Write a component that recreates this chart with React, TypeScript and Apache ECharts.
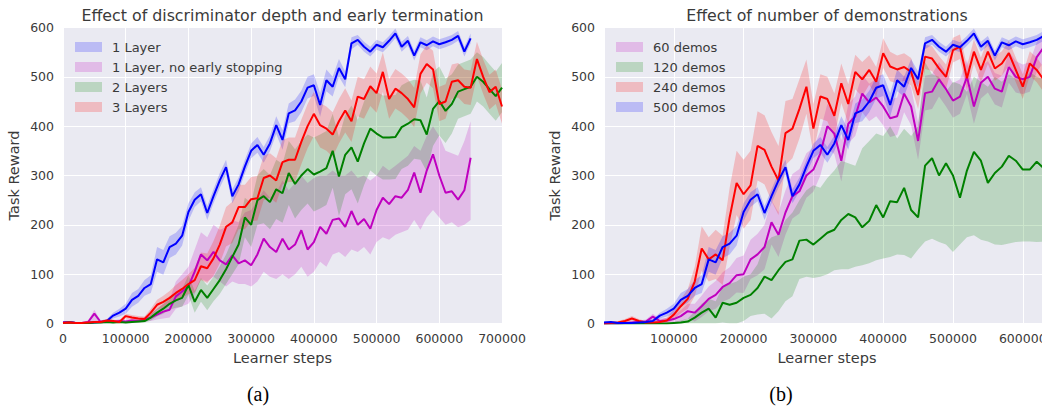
import React, { useEffect, useRef } from "react";
import * as echarts from "echarts";

const STEP = 10000;

// ---------- Panel (a): Effect of discriminator depth and early termination ----------
const leftNames = ["1 Layer", "1 Layer, no early stopping", "2 Layers", "3 Layers"];

const blueMean = [
  2, 3, 1, 1, 1, 2, 3, 5, 16, 22,
  30, 48, 56, 72, 80, 130, 124, 155, 162, 178,
  226, 251, 262, 224, 258, 290, 317, 258, 282, 318,
  350, 362, 342, 365, 402, 372, 426, 432, 450, 478,
  483, 443, 493, 480, 518, 495, 568, 575, 561, 551,
  565, 560, 573, 588, 561, 573, 543, 570, 564, 572,
  566, 570, 575, 583, 551, 578,
];
const blueSpread = [
  2, 2, 2, 2, 2, 2, 3, 4, 6, 8,
  10, 14, 14, 16, 18, 25, 25, 22, 22, 20,
  18, 15, 14, 14, 14, 15, 15, 14, 14, 14,
  15, 16, 16, 16, 18, 20, 20, 22, 22, 22,
  22, 24, 22, 20, 18, 16, 12, 10, 10, 10,
  10, 10, 10, 10, 10, 10, 10, 10, 10, 10,
  10, 10, 10, 10, 10, 10,
];

const magentaMean = [
  2, 3, 1, 1, 3, 20, 3, 4, 3, 5,
  4, 6, 5, 8, 12, 18, 24, 28, 55, 65,
  75, 105, 140, 128, 145, 128, 120, 138, 122, 128,
  118, 140, 172, 155, 145, 172, 150, 160, 189, 150,
  165, 196, 182, 210, 213, 196, 228, 200, 212, 192,
  230, 255, 242, 258, 255, 271, 306, 265, 310, 343,
  300, 265, 268, 251, 270, 336,
];
const magentaLow = [
  0, 0, 0, 0, 0, 5, 0, 0, 0, 1,
  1, 2, 2, 4, 5, 8, 10, 12, 30, 35,
  40, 60, 90, 85, 95, 85, 75, 85, 80, 80,
  75, 85, 105, 95, 90, 100, 90, 100, 115, 95,
  105, 125, 115, 140, 145, 135, 150, 145, 155, 140,
  165, 175, 170, 180, 185, 190, 210, 190, 215, 230,
  215, 200, 205, 195, 200, 210,
];
const magentaHigh = [
  4, 5, 3, 3, 6, 28, 6, 7, 6, 9,
  8, 10, 9, 13, 22, 30, 40, 48, 85, 100,
  115, 150, 185, 175, 200, 190, 195, 210, 205, 225,
  230, 250, 270, 255, 265, 290, 270, 285, 300, 285,
  295, 300, 300, 310, 300, 300, 310, 295, 300, 290,
  300, 320, 310, 320, 330, 340, 360, 350, 380, 400,
  380, 350, 345, 340, 370, 410,
];

const greenMean = [
  1, 2, 1, 1, 1, 2, 2, 3, 2, 3,
  2, 3, 4, 5, 12, 22, 30, 40, 47, 52,
  78, 44, 68, 52, 70, 88, 110, 135, 160, 215,
  200, 250, 258, 246, 272, 264, 305, 283, 300, 313,
  302, 308, 315, 350, 298, 342, 357, 328, 365, 395,
  385, 377, 377, 378, 398, 405, 414, 412, 383, 435,
  451, 431, 445, 470, 475, 480, 500, 490, 475, 461, 478,
];
const greenSpread = [
  2, 2, 2, 2, 2, 2, 2, 2, 2, 2,
  2, 2, 3, 3, 6, 8, 10, 12, 15, 18,
  20, 22, 24, 25, 25, 28, 30, 35, 40, 40,
  45, 50, 55, 55, 60, 60, 65, 70, 70, 70,
  75, 75, 75, 75, 80, 80, 85, 85, 85, 85,
  85, 85, 85, 85, 85, 85, 80, 80, 75, 75,
  70, 65, 60, 55, 55, 55, 50, 50, 50, 50, 50,
];

const redMean = [
  1, 2, 1, 1, 2, 3, 3, 6, 5, 3,
  15, 12, 10, 9, 22, 38, 44, 52, 62, 70,
  80, 88, 116, 112, 132, 160, 196, 205, 236, 236,
  252, 254, 295, 300, 290, 327, 332, 332, 368, 400,
  425, 402, 395, 383, 410, 432, 410, 460, 455, 481,
  467, 510, 455, 476, 467, 455, 438, 506, 526, 515,
  445, 450, 490, 493, 480, 478, 536, 500, 469, 480, 440,
];
const redSpread = [
  2, 2, 2, 2, 2, 2, 3, 3, 3, 3,
  5, 5, 5, 5, 8, 10, 12, 14, 16, 18,
  20, 25, 28, 30, 35, 38, 40, 42, 45, 45,
  45, 45, 45, 45, 45, 45, 45, 45, 45, 45,
  45, 45, 45, 45, 45, 45, 42, 40, 40, 40,
  40, 40, 40, 40, 40, 40, 40, 40, 38, 38,
  35, 35, 35, 35, 35, 35, 35, 35, 35, 35, 35,
];

// ---------- Panel (b): Effect of number of demonstrations ----------
const rightNames = ["60 demos", "120 demos", "240 demos", "500 demos"];

const demo60Mean = [
  0, 0, 0, 1, 2, 3, 4, 14, 5, 6,
  9, 15, 25, 22, 35, 50, 58, 74, 82, 98,
  100, 130, 140, 155, 205, 180, 225, 258, 268, 300,
  312, 345, 400, 385, 330, 405, 420, 466, 448, 458,
  440, 416, 420, 466, 440, 370, 467, 470, 495, 475,
  452, 460, 500, 440, 488, 500, 476, 470, 520, 500,
  495, 500, 540, 560,
];
const demo60Spread = [
  2, 2, 2, 2, 3, 3, 4, 6, 5, 5,
  8, 12, 15, 18, 22, 25, 28, 30, 32, 35,
  38, 40, 42, 45, 45, 45, 45, 45, 45, 45,
  45, 45, 45, 42, 42, 40, 40, 38, 38, 38,
  38, 38, 38, 38, 38, 38, 35, 35, 35, 35,
  35, 35, 35, 35, 32, 32, 32, 32, 32, 32,
  30, 30, 30, 30,
];

const demo120Mean = [
  0, 0, 0, 0, 0, 0, 0, 0, 0, 0,
  1, 2, 4, 12, 22, 30, 12, 42, 38, 42,
  52, 58, 72, 95, 88, 108, 125, 130, 168, 170,
  160, 172, 184, 190, 210, 222, 215, 195, 208, 240,
  215, 248, 246, 275, 230, 215, 320, 335, 300, 325,
  300, 255, 310, 348, 330, 285, 305, 318, 340, 330,
  312, 312, 328, 315,
];
const demo120Low = [
  0, 0, 0, 0, 0, 0, 0, 0, 0, 0,
  0, 0, 0, 0, 0, 0, 0, 2, 0, 0,
  5, 15, 18, 20, 10, 25, 45, 55, 90, 95,
  92, 95, 100, 108, 110, 110, 115, 118, 122, 128,
  132, 135, 140, 139, 132, 150, 166, 172, 165, 160,
  145, 160, 175, 179, 170, 166, 160, 159, 162, 165,
  166, 166, 165, 166,
];
const demo120High = [
  1, 1, 1, 1, 1, 1, 1, 1, 1, 1,
  3, 6, 10, 25, 40, 50, 45, 75, 80, 85,
  95, 100, 120, 160, 175, 180, 210, 225, 250, 270,
  280, 275, 295, 310, 330, 325, 320, 355, 370, 385,
  380, 400, 375, 395, 380, 400, 530, 505, 500, 470,
  490, 485, 470, 500, 490, 480, 500, 490, 505, 495,
  490, 510, 500, 495,
];

const demo240Mean = [
  0, 1, 2, 5, 10, 5, 2, 2, 3, 6,
  18, 35, 50, 85, 152, 130, 140, 128, 215, 285,
  262, 280, 360, 352, 318, 290, 386, 395, 435, 480,
  395, 460, 455, 421, 487, 445, 510, 495, 514, 490,
  548, 521, 515, 520, 510, 463, 541, 537, 517, 500,
  554, 561, 497, 551, 514, 551, 517, 527, 548, 514,
  480, 527, 514, 494,
];
const demo240Spread = [
  2, 2, 3, 4, 5, 4, 3, 3, 4, 6,
  10, 14, 20, 30, 45, 45, 50, 50, 60, 65,
  70, 70, 70, 70, 70, 70, 65, 60, 60, 55,
  50, 45, 45, 45, 40, 40, 35, 35, 30, 30,
  30, 30, 28, 28, 28, 28, 25, 25, 25, 25,
  25, 25, 25, 25, 25, 25, 25, 25, 25, 25,
  25, 25, 25, 25,
];

// 500 demos is the same run as "1 Layer" in panel (a)
const demo500Mean = blueMean;
const demo500Spread = blueSpread;

const FONT = "DejaVu Sans";
const TXT = "#3a3a3a";

const C = {
  blue: "#0000ff",
  magenta: "#bf00bf",
  green: "#008000",
  red: "#ff0000",
};
const F = {
  blue: "rgba(0,0,255,0.2)",
  magenta: "rgba(191,0,191,0.2)",
  green: "rgba(0,128,0,0.2)",
  red: "rgba(255,0,0,0.2)",
};

function xy(vals: number[]) {
  return vals.map((v, i) => [i * STEP, v]);
}
function lowOf(mean: number[], spread: number[]) {
  return mean.map((v, i) => Math.max(0, v - spread[i]));
}
function highOf(mean: number[], spread: number[]) {
  return mean.map((v, i) => v + spread[i]);
}

function bandSeries(name: string, lo: number[], hi: number[], fill: string, gi: number) {
  return {
    type: "custom",
    name,
    xAxisIndex: gi,
    yAxisIndex: gi,
    clip: true,
    silent: true,
    itemStyle: { color: fill },
    data: [[0, lo[0]]],
    renderItem: (_params: any, api: any) => {
      const pts: number[][] = [];
      for (let i = 0; i < hi.length; i++) pts.push(api.coord([i * STEP, hi[i]]));
      for (let i = lo.length - 1; i >= 0; i--) pts.push(api.coord([i * STEP, lo[i]]));
      return { type: "polygon", shape: { points: pts }, style: { fill, stroke: "none" } };
    },
  };
}

function lineSeries(name: string, vals: number[], color: string, gi: number) {
  return {
    type: "line",
    name: name + " (mean)",
    xAxisIndex: gi,
    yAxisIndex: gi,
    data: xy(vals),
    showSymbol: false,
    symbol: "none",
    clip: true,
    silent: true,
    lineStyle: { color, width: 2 },
    itemStyle: { color },
  };
}

function xAxisOf(gi: number, max: number, showMin: boolean) {
  return {
    type: "value",
    gridIndex: gi,
    min: 0,
    max,
    interval: 100000,
    axisLine: { show: false },
    axisTick: { show: false },
    splitLine: { show: true, lineStyle: { color: "#ffffff", width: 1 } },
    axisLabel: {
      color: TXT,
      fontSize: 12.5,
      fontFamily: FONT,
      margin: 8,
      showMinLabel: showMin,
      showMaxLabel: max % 100000 === 0,
      formatter: (v: number) => String(v),
    },
    name: "Learner steps",
    nameLocation: "middle",
    nameGap: 27,
    nameTextStyle: { color: TXT, fontSize: 14.5, fontFamily: FONT },
  };
}

function yAxisOf(gi: number) {
  return {
    type: "value",
    gridIndex: gi,
    min: 0,
    max: 600,
    interval: 100,
    axisLine: { show: false },
    axisTick: { show: false },
    splitLine: { show: true, lineStyle: { color: "#ffffff", width: 1 } },
    axisLabel: { color: TXT, fontSize: 12.5, fontFamily: FONT, margin: 9, formatter: (v: number) => String(v) },
    name: "Task Reward",
    nameLocation: "middle",
    nameGap: 42,
    nameTextStyle: { color: TXT, fontSize: 14.5, fontFamily: FONT },
  };
}

function legendOf(left: number, names: string[], fills: string[]) {
  return {
    orient: "vertical",
    left,
    top: 35,
    itemWidth: 27,
    itemHeight: 10,
    itemGap: 6,
    selectedMode: false,
    icon: "rect",
    textStyle: { color: TXT, fontSize: 13, fontFamily: FONT, lineHeight: 14, padding: [0, 0, 0, 5] },
    data: names.map((n, i) => ({ name: n, icon: "rect", itemStyle: { color: fills[i], borderWidth: 0 } })),
  };
}

function textEl(text: string, x: number, y: number, font: string, fill: string) {
  return {
    type: "text",
    x,
    y,
    silent: true,
    style: {
      text,
      font,
      fill,
      textAlign: "center",
      align: "center",
      textVerticalAlign: "middle",
      verticalAlign: "middle",
    },
  };
}

export default function App() {
  const ref = useRef<HTMLDivElement>(null);

  useEffect(() => {
    if (!ref.current) return;
    const chart = echarts.init(ref.current, undefined, { renderer: "svg" });

    const series: any[] = [
      // panel (a)
      bandSeries(leftNames[0], lowOf(blueMean, blueSpread), highOf(blueMean, blueSpread), F.blue, 0),
      lineSeries(leftNames[0], blueMean, C.blue, 0),
      bandSeries(leftNames[1], magentaLow, magentaHigh, F.magenta, 0),
      lineSeries(leftNames[1], magentaMean, C.magenta, 0),
      bandSeries(leftNames[2], lowOf(greenMean, greenSpread), highOf(greenMean, greenSpread), F.green, 0),
      lineSeries(leftNames[2], greenMean, C.green, 0),
      bandSeries(leftNames[3], lowOf(redMean, redSpread), highOf(redMean, redSpread), F.red, 0),
      lineSeries(leftNames[3], redMean, C.red, 0),
      // panel (b)
      bandSeries(rightNames[0], lowOf(demo60Mean, demo60Spread), highOf(demo60Mean, demo60Spread), F.magenta, 1),
      lineSeries(rightNames[0], demo60Mean, C.magenta, 1),
      bandSeries(rightNames[1], demo120Low, demo120High, F.green, 1),
      lineSeries(rightNames[1], demo120Mean, C.green, 1),
      bandSeries(rightNames[2], lowOf(demo240Mean, demo240Spread), highOf(demo240Mean, demo240Spread), F.red, 1),
      lineSeries(rightNames[2], demo240Mean, C.red, 1),
      bandSeries(rightNames[3], lowOf(demo500Mean, demo500Spread), highOf(demo500Mean, demo500Spread), F.blue, 1),
      lineSeries(rightNames[3], demo500Mean, C.blue, 1),
    ];

    chart.setOption({
      animation: false,
      backgroundColor: "#ffffff",
      grid: [
        { left: 63, top: 27.5, width: 439, height: 296, show: true, backgroundColor: "#eaeaf2", borderWidth: 0, outerBoundsMode: "none" },
        { left: 604, top: 27.5, width: 446, height: 296, show: true, backgroundColor: "#eaeaf2", borderWidth: 0, outerBoundsMode: "none" },
      ],
      xAxis: [xAxisOf(0, 700000, true), xAxisOf(1, 639000, false)],
      yAxis: [yAxisOf(0), yAxisOf(1)],
      legend: [
        legendOf(70, leftNames, [F.blue, F.magenta, F.green, F.red]),
        legendOf(611, rightNames, [F.magenta, F.green, F.red, F.blue]),
      ],
      graphic: [
        textEl("Effect of discriminator depth and early termination", 282.5, 15, `15.8px "${FONT}"`, TXT),
        textEl("Effect of number of demonstrations", 827, 15, `15.8px "${FONT}"`, TXT),
        textEl("(a)", 258, 394, `20px "Liberation Serif"`, "#000000"),
        textEl("(b)", 781, 394, `20px "Liberation Serif"`, "#000000"),
      ],
      series,
    });

    return () => chart.dispose();
  }, []);

  return (
    <div
      ref={ref}
      style={{ position: "absolute", left: 0, top: 0, width: 1042, height: 408, background: "#ffffff" }}
    />
  );
}
